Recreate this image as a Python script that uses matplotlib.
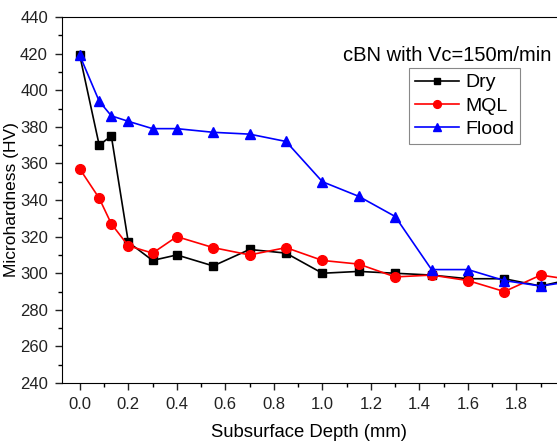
import matplotlib
matplotlib.use('Agg')
import matplotlib.pyplot as plt
from matplotlib.ticker import MultipleLocator

plt.rcParams['font.family'] = ['Liberation Sans', 'DejaVu Sans']

# sample data
depth = [0.0, 0.08, 0.13, 0.2, 0.3, 0.4, 0.55, 0.7, 0.85, 1.0, 1.15, 1.3, 1.45, 1.6, 1.75, 1.9, 2.0]
dry = [419, 370, 375, 317, 307, 310, 304, 313, 311, 300, 301, 300, 299, 297, 297, 293, 296]
mql = [357, 341, 327, 315, 311, 320, 314, 310, 314, 307, 305, 298, 299, 296, 290, 299, 297]
flood = [419, 394, 386, 383, 379, 379, 377, 376, 372, 350, 342, 331, 302, 302, 296, 293, 295]

fig = plt.figure(figsize=(5.57, 4.47), dpi=100)
ax = fig.add_axes([0.111, 0.143, 0.889, 0.819])

ax.plot(depth, dry, color='black', marker='s', markersize=6, linewidth=1.2, label='Dry')
ax.plot(depth, mql, color='red', marker='o', markersize=7, linewidth=1.2, label='MQL')
ax.plot(depth, flood, color='blue', marker='^', markersize=7, linewidth=1.2, label='Flood')

ax.set_xlim(-0.074, 1.967)
ax.set_ylim(240, 440)
ax.xaxis.set_major_locator(MultipleLocator(0.2))
ax.xaxis.set_minor_locator(MultipleLocator(0.1))
ax.yaxis.set_major_locator(MultipleLocator(20))
ax.yaxis.set_minor_locator(MultipleLocator(10))
ax.set_xticks([0.0, 0.2, 0.4, 0.6, 0.8, 1.0, 1.2, 1.4, 1.6, 1.8])
ax.set_xticklabels(['0.0', '0.2', '0.4', '0.6', '0.8', '1.0', '1.2', '1.4', '1.6', '1.8'])
ax.tick_params(which='major', direction='out', length=5, width=1, labelsize=12, colors='#222222', pad=5)
ax.tick_params(which='minor', direction='out', length=3, width=1)
ax.spines['right'].set_visible(False)

ax.set_xlabel('Subsurface Depth (mm)', fontsize=13.3, labelpad=9)
ax.set_ylabel('Microhardness (HV)', fontsize=12.5, labelpad=1)

ax.text(0.568, 0.896, 'cBN with Vc=150m/min', transform=ax.transAxes, fontsize=14.5,
        va='center')
leg = ax.legend(loc='upper left', bbox_to_anchor=(0.701, 0.861), fontsize=14,
                fancybox=False, edgecolor='#888888', framealpha=1, markerscale=0.8,
                handlelength=2.3, borderpad=0.3, labelspacing=0.3, handletextpad=0.3,
                borderaxespad=0)
leg.get_frame().set_linewidth(0.8)

fig.savefig('out.png', dpi=100)
